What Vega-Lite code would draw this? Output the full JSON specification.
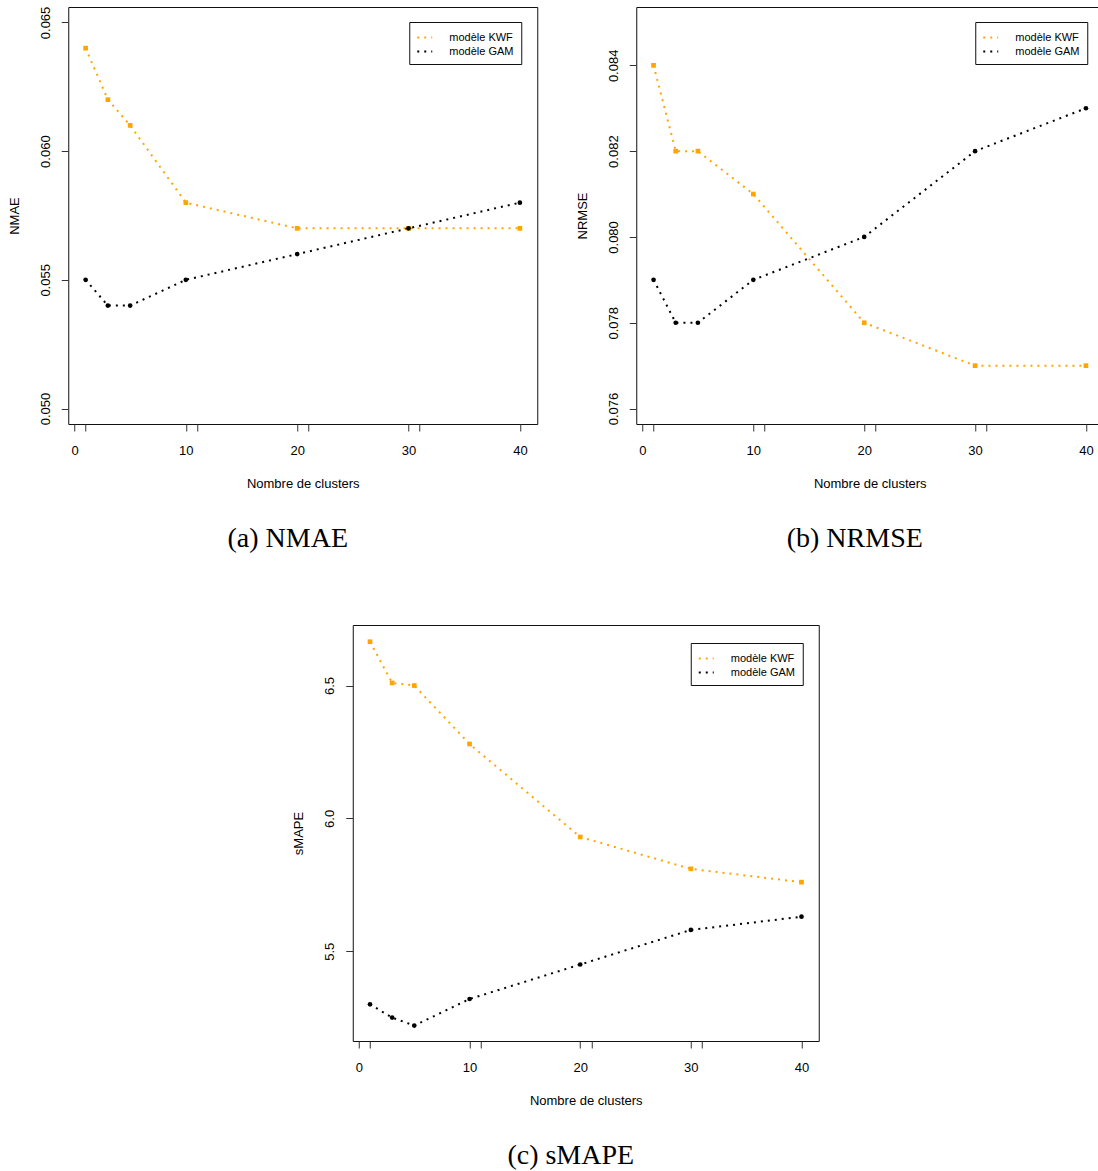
{
  "$schema": "https://vega.github.io/schema/vega-lite/v6.json",
  "padding": {"left": 7, "top": 5, "right": 0, "bottom": 0},
  "background": "white",
  "center": true,
  "spacing": 70,
  "config": {
    "view": {"stroke": "#111", "strokeWidth": 1},
    "axis": {"domain": false, "grid": false, "tickColor": "#333", "tickSize": 7, "labelFont": "Liberation Sans", "labelFontSize": 13, "labelColor": "#000", "titleFont": "Liberation Sans", "titleFontSize": 13, "titleFontWeight": "normal", "titleColor": "#000", "labelOverlap": false, "labelFlush": false},
    "axisX": {"labelPadding": 13, "titlePadding": 20},
    "axisY": {"labelAngle": -90, "labelAlign": "center", "labelBaseline": "alphabetic", "labelPadding": 12, "titlePadding": 18},
    "legend": {"orient": "none", "strokeColor": "#111", "fillColor": "white", "padding": 7, "labelFont": "Liberation Sans", "labelFontSize": 11, "labelColor": "#000", "symbolType": "stroke", "symbolStrokeWidth": 2, "symbolDash": [2, 5], "symbolSize": 225, "labelOffset": 16, "rowPadding": -3},
    "title": {"font": "Liberation Serif", "fontSize": 28, "fontWeight": "normal", "color": "#000", "orient": "bottom", "anchor": "middle", "dx": -15, "offset": 35}
  },
  "datasets": {
    "nmae": [
      {"k": 1, "m": "modèle KWF", "v": 0.064},
      {"k": 3, "m": "modèle KWF", "v": 0.062},
      {"k": 5, "m": "modèle KWF", "v": 0.061},
      {"k": 10, "m": "modèle KWF", "v": 0.058},
      {"k": 20, "m": "modèle KWF", "v": 0.057},
      {"k": 30, "m": "modèle KWF", "v": 0.057},
      {"k": 40, "m": "modèle KWF", "v": 0.057},
      {"k": 1, "m": "modèle GAM", "v": 0.055},
      {"k": 3, "m": "modèle GAM", "v": 0.054},
      {"k": 5, "m": "modèle GAM", "v": 0.054},
      {"k": 10, "m": "modèle GAM", "v": 0.055},
      {"k": 20, "m": "modèle GAM", "v": 0.056},
      {"k": 30, "m": "modèle GAM", "v": 0.057},
      {"k": 40, "m": "modèle GAM", "v": 0.058}
    ],
    "nrmse": [
      {"k": 1, "m": "modèle KWF", "v": 0.084},
      {"k": 3, "m": "modèle KWF", "v": 0.082},
      {"k": 5, "m": "modèle KWF", "v": 0.082},
      {"k": 10, "m": "modèle KWF", "v": 0.081},
      {"k": 20, "m": "modèle KWF", "v": 0.078},
      {"k": 30, "m": "modèle KWF", "v": 0.077},
      {"k": 40, "m": "modèle KWF", "v": 0.077},
      {"k": 1, "m": "modèle GAM", "v": 0.079},
      {"k": 3, "m": "modèle GAM", "v": 0.078},
      {"k": 5, "m": "modèle GAM", "v": 0.078},
      {"k": 10, "m": "modèle GAM", "v": 0.079},
      {"k": 20, "m": "modèle GAM", "v": 0.080},
      {"k": 30, "m": "modèle GAM", "v": 0.082},
      {"k": 40, "m": "modèle GAM", "v": 0.083}
    ],
    "smape": [
      {"k": 1, "m": "modèle KWF", "v": 6.665},
      {"k": 3, "m": "modèle KWF", "v": 6.51},
      {"k": 5, "m": "modèle KWF", "v": 6.50},
      {"k": 10, "m": "modèle KWF", "v": 6.28},
      {"k": 20, "m": "modèle KWF", "v": 5.93},
      {"k": 30, "m": "modèle KWF", "v": 5.81},
      {"k": 40, "m": "modèle KWF", "v": 5.76},
      {"k": 1, "m": "modèle GAM", "v": 5.30},
      {"k": 3, "m": "modèle GAM", "v": 5.25},
      {"k": 5, "m": "modèle GAM", "v": 5.22},
      {"k": 10, "m": "modèle GAM", "v": 5.32},
      {"k": 20, "m": "modèle GAM", "v": 5.45},
      {"k": 30, "m": "modèle GAM", "v": 5.58},
      {"k": 40, "m": "modèle GAM", "v": 5.63}
    ]
  },
  "resolve": {"scale": {"x": "independent", "y": "independent", "color": "independent"}, "legend": {"color": "independent"}, "axis": {"x": "independent", "y": "independent"}},
  "vconcat": [
    {
      "hconcat": [
        {
          "width": 469, "height": 417,
          "data": {"name": "nmae"},
          "title": {"text": "(a) NMAE"},
          "encoding": {
            "x": {"field": "k", "type": "quantitative", "scale": {"domain": [-0.56, 41.56], "nice": false, "zero": false}, "axis": {"values": [0, 1, 10, 11, 20, 21, 30, 31, 40], "labelExpr": "datum.value % 10 == 0 ? datum.label : ''", "title": "Nombre de clusters"}},
            "y": {"field": "v", "type": "quantitative", "scale": {"domain": [0.0494, 0.0656], "nice": false, "zero": false}, "axis": {"values": [0.05, 0.055, 0.06, 0.065], "format": ".3f", "title": "NMAE"}},
            "color": {"field": "m", "type": "nominal", "scale": {"domain": ["modèle KWF", "modèle GAM"], "range": ["#FFA500", "#000000"]}, "legend": {"title": null, "symbolType": "stroke", "legendX": 341, "legendY": 15}}
          },
          "layer": [
            {"mark": {"type": "line", "strokeDash": [2, 5], "strokeWidth": 2}},
            {"transform": [{"filter": "datum.m == 'modèle KWF'"}], "mark": {"type": "point", "shape": "square", "filled": true, "opacity": 1, "size": 22}},
            {"transform": [{"filter": "datum.m == 'modèle GAM'"}], "mark": {"type": "point", "shape": "circle", "filled": true, "opacity": 1, "size": 22}}
          ]
        },
        {
          "width": 467, "height": 417,
          "data": {"name": "nrmse"},
          "title": {"text": "(b) NRMSE"},
          "encoding": {
            "x": {"field": "k", "type": "quantitative", "scale": {"domain": [-0.56, 41.56], "nice": false, "zero": false}, "axis": {"values": [0, 1, 10, 11, 20, 21, 30, 31, 40], "labelExpr": "datum.value % 10 == 0 ? datum.label : ''", "title": "Nombre de clusters"}},
            "y": {"field": "v", "type": "quantitative", "scale": {"domain": [0.07564, 0.08536], "nice": false, "zero": false}, "axis": {"values": [0.076, 0.078, 0.08, 0.082, 0.084], "format": ".3f", "title": "NRMSE"}},
            "color": {"field": "m", "type": "nominal", "scale": {"domain": ["modèle KWF", "modèle GAM"], "range": ["#FFA500", "#000000"]}, "legend": {"title": null, "symbolType": "stroke", "legendX": 339, "legendY": 15}}
          },
          "layer": [
            {"mark": {"type": "line", "strokeDash": [2, 5], "strokeWidth": 2}},
            {"transform": [{"filter": "datum.m == 'modèle KWF'"}], "mark": {"type": "point", "shape": "square", "filled": true, "opacity": 1, "size": 22}},
            {"transform": [{"filter": "datum.m == 'modèle GAM'"}], "mark": {"type": "point", "shape": "circle", "filled": true, "opacity": 1, "size": 22}}
          ]
        }
      ],
      "spacing": 37,
      "resolve": {"scale": {"x": "independent", "y": "independent", "color": "independent"}, "legend": {"color": "independent"}, "axis": {"x": "independent", "y": "independent"}}
    },
    {
      "width": 466, "height": 416,
      "data": {"name": "smape"},
      "title": {"text": "(c) sMAPE"},
      "encoding": {
        "x": {"field": "k", "type": "quantitative", "scale": {"domain": [-0.56, 41.56], "nice": false, "zero": false}, "axis": {"values": [0, 1, 10, 11, 20, 21, 30, 31, 40], "labelExpr": "datum.value % 10 == 0 ? datum.label : ''", "title": "Nombre de clusters"}},
        "y": {"field": "v", "type": "quantitative", "scale": {"domain": [5.162, 6.728], "nice": false, "zero": false}, "axis": {"values": [5.5, 6.0, 6.5], "format": ".1f", "title": "sMAPE"}},
        "color": {"field": "m", "type": "nominal", "scale": {"domain": ["modèle KWF", "modèle GAM"], "range": ["#FFA500", "#000000"]}, "legend": {"title": null, "symbolType": "stroke", "legendX": 338, "legendY": 18}}
      },
      "layer": [
        {"mark": {"type": "line", "strokeDash": [2, 5], "strokeWidth": 2}},
        {"transform": [{"filter": "datum.m == 'modèle KWF'"}], "mark": {"type": "point", "shape": "square", "filled": true, "opacity": 1, "size": 22}},
        {"transform": [{"filter": "datum.m == 'modèle GAM'"}], "mark": {"type": "point", "shape": "circle", "filled": true, "opacity": 1, "size": 22}}
      ]
    }
  ]
}
